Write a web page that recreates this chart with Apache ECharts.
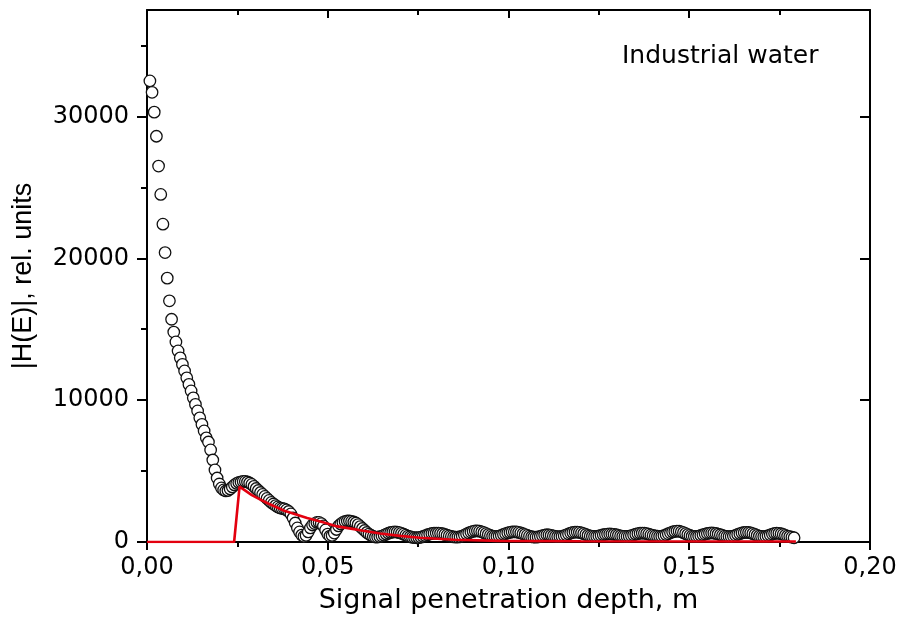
<!DOCTYPE html>
<html>
<head>
<meta charset="utf-8">
<script src="https://cdn.jsdelivr.net/npm/echarts@6/dist/echarts.min.js"></script>
<style>html,body{margin:0;padding:0;background:#fff;}#c{width:901px;height:626px;}</style>
</head>
<body>
<div id="c"></div>
<script>
// measured |H(E)| points: depth (m)
const depthX = [
0.0008,0.0014,0.0020,0.0026,0.0032,0.0038,0.0044,0.0050,0.0056,0.0062,
0.0068,0.0074,0.0080,0.0086,0.0092,0.0098,0.0104,0.0110,0.0116,0.0122,
0.0128,0.0134,0.0140,0.0146,0.0152,0.0158,0.0164,0.0170,0.0176,0.0182,
0.0188,0.0194,0.0200,0.0206,0.0212,0.0218,0.0224,0.0230,0.0236,0.0242,
0.0248,0.0254,0.0260,0.0266,0.0272,0.0278,0.0284,0.0290,0.0296,0.0302,
0.0308,0.0314,0.0320,0.0326,0.0332,0.0338,0.0344,0.0350,0.0356,0.0362,
0.0368,0.0374,0.0380,0.0386,0.0392,0.0398,0.0404,0.0410,0.0416,0.0422,
0.0428,0.0434,0.0440,0.0446,0.0452,0.0458,0.0464,0.0470,0.0476,0.0482,
0.0488,0.0494,0.0500,0.0506,0.0512,0.0518,0.0524,0.0530,0.0536,0.0542,
0.0548,0.0554,0.0560,0.0566,0.0572,0.0578,0.0584,0.0590,0.0596,0.0602,
0.0608,0.0614,0.0620,0.0626,0.0632,0.0638,0.0644,0.0650,0.0656,0.0662,
0.0668,0.0674,0.0680,0.0686,0.0692,0.0698,0.0704,0.0710,0.0716,0.0722,
0.0728,0.0734,0.0740,0.0746,0.0752,0.0758,0.0764,0.0770,0.0776,0.0782,
0.0788,0.0794,0.0800,0.0806,0.0812,0.0818,0.0824,0.0830,0.0836,0.0842,
0.0848,0.0854,0.0860,0.0866,0.0872,0.0878,0.0884,0.0890,0.0896,0.0902,
0.0908,0.0914,0.0920,0.0926,0.0932,0.0938,0.0944,0.0950,0.0956,0.0962,
0.0968,0.0974,0.0980,0.0986,0.0992,0.0998,0.1004,0.1010,0.1016,0.1022,
0.1028,0.1034,0.1040,0.1046,0.1052,0.1058,0.1064,0.1070,0.1076,0.1082,
0.1088,0.1094,0.1100,0.1106,0.1112,0.1118,0.1124,0.1130,0.1136,0.1142,
0.1148,0.1154,0.1160,0.1166,0.1172,0.1178,0.1184,0.1190,0.1196,0.1202,
0.1208,0.1214,0.1220,0.1226,0.1232,0.1238,0.1244,0.1250,0.1256,0.1262,
0.1268,0.1274,0.1280,0.1286,0.1292,0.1298,0.1304,0.1310,0.1316,0.1322,
0.1328,0.1334,0.1340,0.1346,0.1352,0.1358,0.1364,0.1370,0.1376,0.1382,
0.1388,0.1394,0.1400,0.1406,0.1412,0.1418,0.1424,0.1430,0.1436,0.1442,
0.1448,0.1454,0.1460,0.1466,0.1472,0.1478,0.1484,0.1490,0.1496,0.1502,
0.1508,0.1514,0.1520,0.1526,0.1532,0.1538,0.1544,0.1550,0.1556,0.1562,
0.1568,0.1574,0.1580,0.1586,0.1592,0.1598,0.1604,0.1610,0.1616,0.1622,
0.1628,0.1634,0.1640,0.1646,0.1652,0.1658,0.1664,0.1670,0.1676,0.1682,
0.1688,0.1694,0.1700,0.1706,0.1712,0.1718,0.1724,0.1730,0.1736,0.1742,
0.1748,0.1754,0.1760,0.1766,0.1772,0.1778,0.1784,0.1790
];
// measured |H(E)| values, rel. units
const hValues = [
32500,31700,30300,28600,26500,24500,22400,20400,18600,17000,
15700,14800,14100,13470,12980,12520,12060,11570,11110,10650,
10160,9700,9240,8750,8290,7830,7340,7050,6490,5780,
5080,4510,4090,3810,3670,3600,3630,3740,3880,4020,
4130,4200,4230,4270,4270,4230,4160,4060,3920,3770,
3630,3490,3350,3210,3070,2930,2790,2680,2570,2470,
2400,2360,2330,2260,2150,1980,1690,1340,990,710,
490,390,460,710,990,1200,1300,1380,1380,1300,
1130,850,560,420,460,630,880,1130,1270,1380,
1450,1480,1480,1450,1410,1340,1230,1090,950,810,
670,560,460,390,350,350,380,420,480,550,
620,670,700,710,700,660,610,550,480,420,
370,330,310,300,310,340,390,450,510,560,
600,620,630,630,610,580,530,480,430,390,
360,350,350,370,420,490,570,640,700,750,
780,780,760,720,660,590,520,460,420,400,
400,420,470,530,590,640,680,710,720,710,
680,640,580,520,460,410,370,350,340,360,
400,450,490,510,500,470,430,400,380,380,
400,440,500,570,630,680,700,700,680,640,
590,530,470,430,400,390,400,430,470,510,
540,560,570,560,540,510,470,430,400,390,
390,410,450,500,550,590,620,630,620,590,
550,500,460,430,410,400,410,450,510,580,
650,710,750,770,760,720,660,590,520,460,
420,400,400,420,460,510,560,600,630,640,
630,600,560,510,460,420,390,380,390,420,
470,530,590,640,670,680,670,640,590,530,
470,420,390,380,400,440,500,560,600,620,
610,580,530,470,420,380,340,300
];
// red model curve
const modelX = [0, 0.0241, 0.0256, 0.0290, 0.0332, 0.0380, 0.0443, 0.0487, 0.0526, 0.0581, 0.0645, 0.0700, 0.0755, 0.0850, 0.0977, 0.1200, 0.1795];
const modelY = [0, 0, 3900, 3300, 2750, 2200, 1690, 1400, 1100, 870, 600, 430, 300, 160, 80, 50, 40];
// axis ticks
const yMajorTicks = [0, 10000, 20000, 30000];
const yMinorTicks = [5000, 15000, 25000, 35000];
const xMin = 0, xMax = 0.2, xInterval = 0.05;
const yMin = 0, yMax = 37500;
const xTitle = 'Signal penetration depth, m';
const yTitle = '|H(E)|, rel. units';
const annotation = 'Industrial water';

const pts = depthX.map((x, i) => [x, hValues[i]]);
const model = modelX.map((x, i) => [x, modelY[i]]);

const chart = echarts.init(document.getElementById('c'), null, {renderer: 'canvas'});
const black = '#000';
const hFont = 'DejaVu Sans';
const lineStyle = {color: black, width: 2};

const yBase = {
  type: 'value', min: yMin, max: yMax, gridIndex: 0,
  splitLine: {show: false}, axisLine: {show: false},
  axisLabel: {show: false}
};

const option = {
  animation: false,
  backgroundColor: '#fff',
  grid: {left: 147, right: 31, top: 10, bottom: 84, containLabel: false},
  xAxis: [
    {
      type: 'value', min: xMin, max: xMax, interval: xInterval, position: 'bottom',
      axisLine: {show: true, onZero: false, lineStyle},
      axisTick: {show: true, inside: false, length: 8, lineStyle},
      minorTick: {show: true, splitNumber: 2, length: 5, lineStyle},
      splitLine: {show: false}, minorSplitLine: {show: false},
      axisLabel: {
        formatter: v => v.toFixed(2).replace('.', ','),
        fontFamily: hFont, fontSize: 24, color: black, margin: 14
      },
      name: xTitle, nameLocation: 'middle', nameGap: 45,
      nameTextStyle: {fontFamily: hFont, fontSize: 27, color: black}
    },
    {
      type: 'value', min: xMin, max: xMax, interval: xInterval, position: 'top',
      axisLine: {show: true, onZero: false, lineStyle},
      axisTick: {show: true, inside: true, length: 8, lineStyle},
      minorTick: {show: true, splitNumber: 2, length: 5, lineStyle},
      splitLine: {show: false}, axisLabel: {show: false}
    }
  ],
  yAxis: [
    Object.assign({}, yBase, {
      position: 'left',
      axisLine: {show: true, onZero: false, lineStyle},
      axisTick: {show: true, inside: false, length: 10, lineStyle, customValues: yMajorTicks},
      axisLabel: {show: true, customValues: yMajorTicks, formatter: v => String(v),
        fontFamily: hFont, fontSize: 24, color: black, margin: 18},
      name: yTitle, nameLocation: 'middle', nameGap: 110,
      nameTextStyle: {fontFamily: 'Liberation Sans', fontSize: 27, color: black}
    }),
    Object.assign({}, yBase, {
      position: 'left',
      axisTick: {show: true, inside: false, length: 6, lineStyle, customValues: yMinorTicks}
    }),
    Object.assign({}, yBase, {
      position: 'right',
      axisLine: {show: true, onZero: false, lineStyle},
      axisTick: {show: true, inside: true, length: 10, lineStyle, customValues: yMajorTicks}
    }),
    Object.assign({}, yBase, {
      position: 'right',
      axisTick: {show: true, inside: true, length: 6, lineStyle, customValues: yMinorTicks}
    })
  ],
  graphic: [{
    type: 'text', left: 622, top: 44,
    style: {text: annotation, font: '25px "DejaVu Sans"', fill: black}
  }],
  series: [
    {
      type: 'scatter', xAxisIndex: 0, yAxisIndex: 0, data: pts,
      symbol: 'circle', symbolSize: 11.5,
      itemStyle: {color: '#fff', borderColor: '#111', borderWidth: 1.3, opacity: 1},
      emphasis: {disabled: true}, silent: true, z: 2
    },
    {
      type: 'line', xAxisIndex: 0, yAxisIndex: 0, data: model,
      showSymbol: false, symbol: 'none',
      lineStyle: {color: '#e3000f', width: 2.6},
      emphasis: {disabled: true}, silent: true, z: 3
    }
  ]
};
chart.setOption(option);
</script>
</body>
</html>
